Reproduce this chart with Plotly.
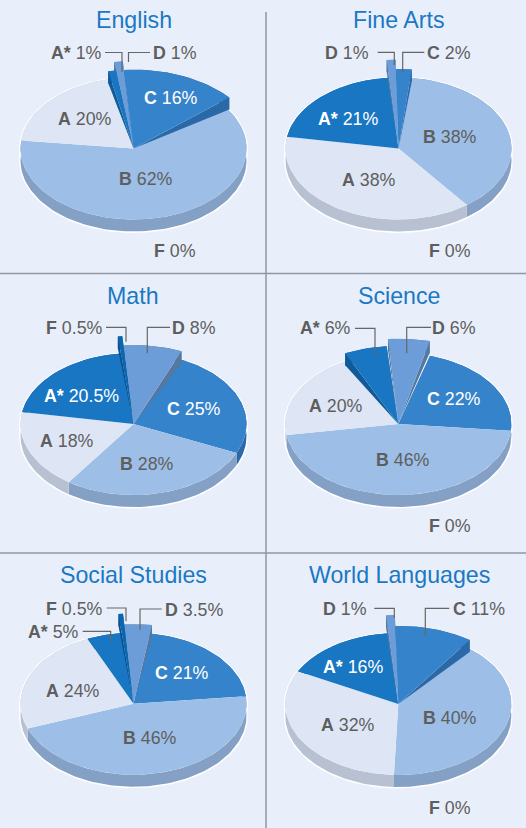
import math
import plotly.graph_objects as go

# ---------- data (clockwise from the top of each pie) ----------
ENGLISH_GRADES = ["D", "C", "F", "B", "A", "A*"]
ENGLISH_VALUES = [1, 16, 0, 62, 20, 1]
FINE_ARTS_GRADES = ["D", "C", "F", "B", "A", "A*"]
FINE_ARTS_VALUES = [1, 2, 0, 38, 38, 21]
MATH_GRADES = ["D", "C", "B", "A", "A*", "F"]
MATH_VALUES = [8, 25, 28, 18, 20.5, 0.5]
SCIENCE_GRADES = ["D", "C", "F", "B", "A", "A*"]
SCIENCE_VALUES = [6, 22, 0, 46, 20, 6]
SOCIAL_GRADES = ["D", "C", "B", "A", "A*", "F"]
SOCIAL_VALUES = [3.5, 21, 46, 24, 5, 0.5]
WORLD_GRADES = ["D", "C", "F", "B", "A", "A*"]
WORLD_VALUES = [1, 11, 0, 40, 32, 16]

# ---------- styling ----------
BG = "#E9EFFA"
TOP = {"A": "#DEE6F5", "B": "#9DBEE6", "C": "#3583CB", "D": "#6C9DD8", "A*": "#1976C2", "F": "#0B66B0"}
WALL = {"A": "#B7C1D1", "B": "#84A0C4", "C": "#2A68A8", "D": "#55789F", "A*": "#0F5A98", "F": "#0A4F8C"}
TEXT = "#5E5E5E"
TITLE = "#1A78C4"
LEADER = "#666666"
DIVIDER = "#8F97A3"
FONT = "Liberation Sans"
RX, RY, DEPTH = 113, 71, 12

# layout of each panel: pie geometry, pulled slices (radius factor, perspective trim at the
# leading and trailing edge as a share of the sweep), label centres, leader paths
PANELS = [
    dict(title="English", grades=ENGLISH_GRADES, values=ENGLISH_VALUES,
         cx=133.5, cy=148.5, start=-8, tx=133.5, ty=19.5,
         pull={"C": (1.11, 0, 0.06), "A*": (1.11, 0, 0), "D": (1.23, 0, 0)},
         labels={"C": (171, 98), "A": (85, 119), "B": (146, 179), "F": (175, 251),
                 "A*": (76, 53), "D": (175, 53)}, white=["C"],
         leaders=[[(105, 52.5), (122, 52.5), (122, 72)], [(150, 52.5), (128.5, 52.5), (128.5, 62)]]),
    dict(title="Fine Arts", grades=FINE_ARTS_GRADES, values=FINE_ARTS_VALUES,
         cx=398.5, cy=148.5, start=-4.8, tx=399.3, ty=19.5,
         pull={"C": (1.12, 0, 0), "D": (1.25, 0, 0)},
         labels={"D": (347, 53), "C": (449.3, 53), "A*": (348.3, 119), "B": (450, 136.7),
                 "A": (368.7, 180), "F": (450, 250.7)}, white=["A*"],
         leaders=[[(377.7, 52.3), (394.3, 52.3), (394.3, 65)], [(424.3, 52.3), (402.7, 52.3), (402.7, 71.7)]]),
    dict(title="Math", grades=MATH_GRADES, values=MATH_VALUES,
         cx=133.5, cy=424, start=-4.6, tx=133.3, ty=296,
         pull={"D": (1.11, 0, 0.06), "F": (1.24, 0, 0)},
         labels={"F": (74, 328.3), "D": (194.3, 328.3), "A*": (81, 395.7), "C": (194, 409.3),
                 "A": (67.3, 440.7), "B": (146.7, 464)}, white=["A*", "C"],
         leaders=[[(106, 327.3), (126, 327.3), (126, 341.7)], [(170, 327.3), (147.3, 327.3), (147.3, 353.3)]]),
    dict(title="Science", grades=SCIENCE_GRADES, values=SCIENCE_VALUES,
         cx=398.3, cy=424, start=-5.4, tx=399.3, ty=296,
         pull={"D": (1.2, 0.05, 0.13), "A*": (1.1, 0.08, 0)},
         labels={"A*": (325, 328.3), "D": (454.3, 328.3), "C": (453.7, 399.3), "A": (336, 405.7),
                 "B": (402.7, 460), "F": (450, 525.7)}, white=["C"],
         leaders=[[(355, 328.3), (375, 328.3), (375, 355)], [(431, 327.3), (406.7, 327.3), (406.7, 353.3)]]),
    dict(title="Social Studies", grades=SOCIAL_GRADES, values=SOCIAL_VALUES,
         cx=133.5, cy=703.7, start=-4.2, tx=133.3, ty=575,
         pull={"D": (1.12, 0, 0), "F": (1.27, 0, 0)},
         labels={"F": (74, 609), "D": (194.3, 609.7), "A*": (53.3, 631.7), "C": (182.3, 673),
                 "A": (73.3, 690.7), "B": (150, 738.3)}, white=["C"],
         leaders=[[(106.7, 608), (126, 608), (126, 621.3)], [(161.7, 609), (140, 609), (140, 629.7)],
                  [(82.7, 631.3), (110.7, 631.3), (110.7, 641.3)]]),
    dict(title="World Languages", grades=WORLD_GRADES, values=WORLD_VALUES,
         cx=398.3, cy=704, start=-5, tx=399.3, ty=575,
         pull={"C": (1.1, 0, 0.08), "D": (1.25, 0, 0)},
         labels={"D": (345.3, 609), "C": (479.3, 609), "A*": (353.3, 667), "B": (450, 717.7),
                 "A": (348.3, 724.7), "F": (450, 808)}, white=["A*"],
         leaders=[[(374.3, 608.3), (394.3, 608.3), (394.3, 618)], [(449.3, 608.3), (425.3, 608.3), (425.3, 636.3)]]),
]

fig = go.Figure()


def poly(xs, ys, color, hover=None):
    fig.add_trace(go.Scatter(x=xs, y=ys, mode="lines", fill="toself", fillcolor=color,
                             line=dict(width=0, color=color), hoverinfo="text" if hover else "skip",
                             text=hover, showlegend=False))


def point(p, deg, mult=1.0):
    a = math.radians(deg)
    return p["cx"] + RX * mult * math.sin(a), p["cy"] - RY * mult * math.cos(a)


def arc(p, a0, a1, mult):
    n = max(2, int(abs(a1 - a0) / 2) + 1)
    pts = [point(p, a0 + (a1 - a0) * i / (n - 1), mult) for i in range(n)]
    return [q[0] for q in pts], [q[1] for q in pts]


def draw_wall(p, grade, a0, a1, mult):
    ax, ay = arc(p, a0, a1, mult)
    poly(ax + list(reversed(ax)), ay + [y + DEPTH for y in reversed(ay)], WALL[grade])
    if mult > 1:
        # the side faces of a pulled slice taper down to the apex
        for x, y in ((ax[0], ay[0]), (ax[-1], ay[-1])):
            poly([p["cx"], x, x], [p["cy"], y, y + DEPTH], WALL[grade])


def draw_top(p, grade, a0, a1, mult, value):
    ax, ay = arc(p, a0, a1, mult)
    poly([p["cx"]] + ax + [p["cx"]], [p["cy"]] + ay + [p["cy"]], TOP[grade], f"{grade} {value}%")


for p in PANELS:
    # white rim round the whole pie
    ux, uy = arc(p, -90, 90, 1.012)
    lx, ly = arc(p, 90, 270, 1.012)
    poly(ux + lx, uy + [y + DEPTH + 0.6 for y in ly], "#FFFFFF")

    total = sum(p["values"])
    angle = p["start"]
    spans = []
    for g, v in zip(p["grades"], p["values"]):
        sweep = 360 * v / total
        if v > 0:
            mult, lead, trail = p["pull"].get(g, (1.0, 0, 0))
            spans.append((g, angle + sweep * lead, angle + sweep * (1 - trail), mult, v))
        angle += sweep
    flat = [s for s in spans if s[3] == 1.0]
    pulled = [s for s in spans if s[3] > 1.0]
    for group in (flat, pulled):
        for s in group:
            draw_wall(p, s[0], s[1], s[2], s[3])
        for s in group:
            draw_top(p, s[0], s[1], s[2], s[3], s[4])

    for path in p["leaders"]:
        fig.add_trace(go.Scatter(x=[q[0] for q in path], y=[q[1] for q in path], mode="lines",
                                 line=dict(color=LEADER, width=1.2), hoverinfo="skip", showlegend=False))

    fig.add_annotation(x=p["tx"], y=p["ty"], text=p["title"], showarrow=False,
                       font=dict(family=FONT, size=23.2, color=TITLE))
    for g, v in zip(p["grades"], p["values"]):
        x, y = p["labels"][g]
        color = "#FFFFFF" if g in p["white"] else TEXT
        fig.add_annotation(x=x, y=y, text=f"<b>{g}</b> {v}%", showarrow=False,
                           font=dict(family=FONT, size=17.8, color=color))

# panel dividers
fig.add_shape(type="line", x0=266, x1=266, y0=12, y1=828, xref="x", yref="y", line=dict(color=DIVIDER, width=1.5))
for yy in (273.5, 553):
    fig.add_shape(type="line", x0=0, x1=526, y0=yy, y1=yy, xref="x", yref="y", line=dict(color=DIVIDER, width=1.5))

fig.update_layout(
    width=526, height=828, autosize=False, margin=dict(l=0, r=0, t=0, b=0),
    paper_bgcolor=BG, plot_bgcolor=BG, showlegend=False,
    xaxis=dict(range=[0, 526], visible=False, fixedrange=True),
    yaxis=dict(range=[828, 0], visible=False, fixedrange=True),
)
fig.write_html("out.html", config={"displayModeBar": False},
               post_script="document.body.style.margin='0';document.body.style.overflow='hidden';")
